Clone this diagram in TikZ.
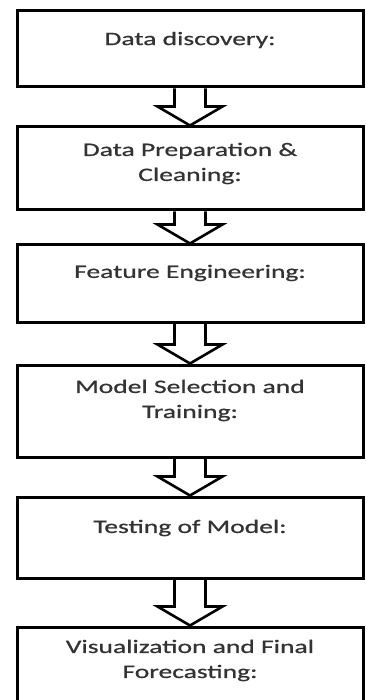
\documentclass[tikz,border=0pt]{standalone}
\usepackage{fontspec}
\setmainfont[FakeStretch=1.45, FakeBold=0.8]{Carlito}
\usetikzlibrary{calc}

\tikzset{
  stepbox/.style={draw, line width=3pt, minimum width=346pt, inner sep=0pt},
  steptext/.style={font=\fontsize{19}{25}\selectfont, align=center, text=black!80},
  hollow/.style={draw, line width=2.6pt, line join=miter},
}

% hollow block arrow from one box down to the next
\newcommand{\blockarrow}[2]{%
  \draw[hollow] ($(#1.south)+(-15.5,0)$) -- ($(#2.north)+(-15.5,-19)$)
    -- ($(#2.north)+(-32.5,-19)$) -- (#2.north) -- ($(#2.north)+(32.5,-19)$)
    -- ($(#2.north)+(15.5,-19)$) -- ($(#1.south)+(15.5,0)$);}

\begin{document}
\begin{tikzpicture}[x=1pt, y=-1pt]
  \useasboundingbox (0,0) rectangle (366,700);

% steps
  \node[stepbox, minimum height=76pt,
        label={[steptext, yshift=9pt]center:{Data discovery:}}] (disc) at (190,49) {};
  \node[stepbox, minimum height=83pt,
        label={[steptext, yshift=5pt]center:{Data Preparation \&\\Cleaning:}}] (prep) at (190,168.5) {};
  \node[stepbox, minimum height=77pt,
        label={[steptext, yshift=10.5pt]center:{Feature Engineering:}}] (feat) at (190,283.5) {};
  \node[stepbox, minimum height=92pt,
        label={[steptext, yshift=10.5pt]center:{Model Selection and\\Training:}}] (model) at (190,411) {};
  \node[stepbox, minimum height=81pt,
        label={[steptext, yshift=9.5pt]center:{Testing of Model:}}] (test) at (190,537.5) {};
  \node[stepbox, minimum height=90pt,
        label={[steptext, yshift=11.5pt]center:{Visualization and Final\\Forecasting:}}] (visual) at (190,672) {};

% arrows
  \blockarrow{disc}{prep}
  \blockarrow{prep}{feat}
  \blockarrow{feat}{model}
  \blockarrow{model}{test}
  \blockarrow{test}{visual}
\end{tikzpicture}
\end{document}
